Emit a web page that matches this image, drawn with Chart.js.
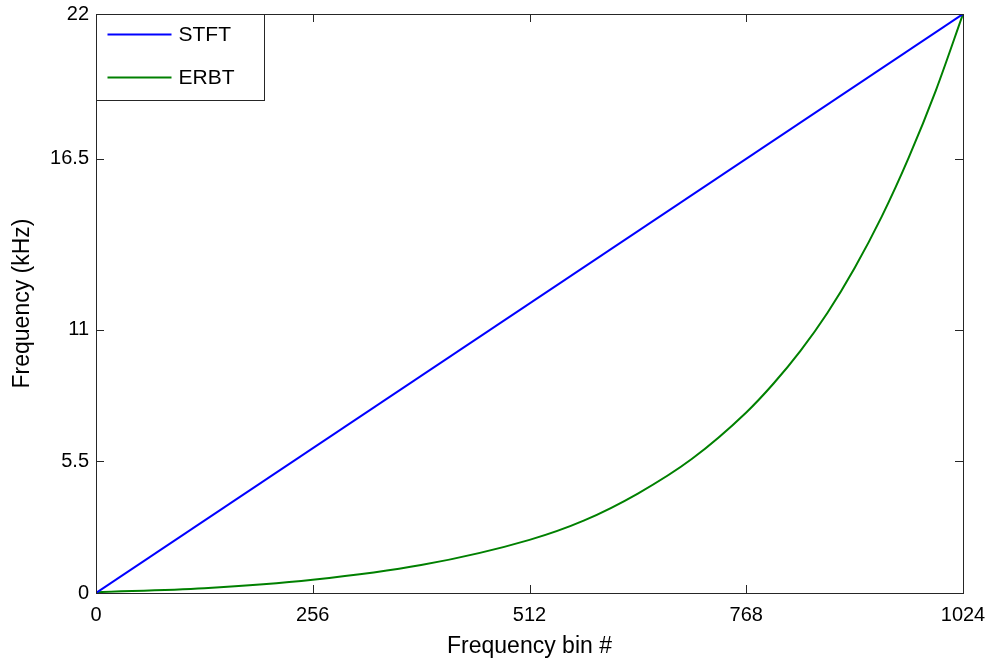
<!DOCTYPE html>
<html>
<head>
<meta charset="utf-8">
<script src="https://cdn.jsdelivr.net/npm/chart.js@4.4.1/dist/chart.umd.min.js"></script>
<style>
  body { margin: 0; background: #fff; }
  #wrap { width: 991px; height: 664px; }
</style>
</head>
<body>
<div id="wrap"><canvas id="freqChart" width="991" height="664"></canvas></div>
<script>
// frequency of each bin: linear STFT bins vs ERB-spaced bins

const stftBins = [0, 1024];
const stftKHz = [0, 22];

const erbBins = [0, 128, 256, 384, 512, 576, 640, 704, 768, 800, 832, 864, 896, 928, 960, 992, 1024];
const erbKHz = [0.03, 0.18, 0.5, 1.06, 2.02, 2.75, 3.78, 5.1, 6.86, 7.95, 9.2, 10.65, 12.35, 14.3, 16.55, 19.1, 22.0];

const xTickValues = [0, 256, 512, 768, 1024];
const yTickValues = [0, 5, 10, 16.5, 22];
const yTickLabels = ["0", "5.5", "11", "16.5", "22"];

const axisColor = "#262626";
const fontName = "'Liberation Sans', Arial, sans-serif";

function toPoints(xs, ys) {
    return xs.map((x, i) => ({ x: x, y: ys[i] }));
}

// box round the plot with tick marks pointing inwards on all four sides
const boxTicks = {
    id: "boxTicks",
    afterDraw(chart) {
        const ctx = chart.ctx;
        const a = chart.chartArea;
        const xs = chart.scales.x;
        const ys = chart.scales.y;
        const len = 8;
        ctx.save();
        ctx.strokeStyle = axisColor;
        ctx.lineWidth = 1;
        ctx.strokeRect(a.left + 0.5, a.top + 0.5, a.right - a.left, a.bottom - a.top);
        ctx.beginPath();
        xs.ticks.forEach(t => {
            const px = Math.round(xs.getPixelForValue(t.value)) + 0.5;
            ctx.moveTo(px, a.bottom); ctx.lineTo(px, a.bottom - len);
            ctx.moveTo(px, a.top); ctx.lineTo(px, a.top + len);
        });
        ys.ticks.forEach(t => {
            const py = Math.round(ys.getPixelForValue(t.value)) + 0.5;
            ctx.moveTo(a.left, py); ctx.lineTo(a.left + len, py);
            ctx.moveTo(a.right, py); ctx.lineTo(a.right - len, py);
        });
        ctx.stroke();
        ctx.restore();
    }
};

// legend drawn inside the top left corner of the plot
const boxLegend = {
    id: "boxLegend",
    afterDraw(chart) {
        const ctx = chart.ctx;
        const a = chart.chartArea;
        const left = a.left + 0.5;
        const top = a.top + 0.5;
        ctx.save();
        ctx.fillStyle = "#fff";
        ctx.fillRect(left, top, 168, 86);
        ctx.strokeStyle = axisColor;
        ctx.lineWidth = 1;
        ctx.strokeRect(left, top, 168, 86);
        ctx.font = "21px " + fontName;
        ctx.textBaseline = "middle";
        chart.data.datasets.forEach((ds, i) => {
            const y = top + 20 + i * 43;
            ctx.strokeStyle = ds.borderColor;
            ctx.lineWidth = 2;
            ctx.beginPath();
            ctx.moveTo(left + 11, y);
            ctx.lineTo(left + 75, y);
            ctx.stroke();
            ctx.fillStyle = "#000";
            ctx.fillText(ds.label, left + 82, y + 1);
        });
        ctx.restore();
    }
};

new Chart("freqChart", {
    type: "line",
    data: {
        datasets: [
            {
                label: "STFT",
                data: toPoints(stftBins, stftKHz),
                borderColor: "rgb(0, 0, 255)",
                borderWidth: 2,
                pointRadius: 0,
            },
            {
                label: "ERBT",
                data: toPoints(erbBins, erbKHz),
                borderColor: "rgb(0, 128, 0)",
                borderWidth: 2,
                pointRadius: 0,
                cubicInterpolationMode: "monotone",
            },
        ]
    },
    options: {
        responsive: false,
        animation: false,
        layout: { padding: { top: 14, right: 28, left: 0, bottom: 0 } },
        plugins: {
            legend: { display: false },
            tooltip: { enabled: false },
        },
        scales: {
            x: {
                type: "linear",
                min: 0,
                max: 1024,
                afterBuildTicks: (scale) => {
                    scale.ticks = xTickValues.map(v => ({ value: v }));
                },
                afterFit: (scale) => {
                    scale.height = 71;
                    scale.paddingLeft = 0;
                    scale.paddingRight = 0;
                },
                grid: { display: false, drawTicks: false },
                border: { display: false },
                ticks: {
                    padding: 10,
                    color: "#000",
                    font: { family: fontName, size: 20 },
                    maxRotation: 0,
                    callback: (value) => String(value),
                },
                title: {
                    display: true,
                    text: "Frequency bin #",
                    color: "#000",
                    font: { family: fontName, size: 23 },
                    padding: { top: 0, bottom: 4 },
                },
            },
            y: {
                type: "linear",
                min: 0,
                max: 22,
                afterBuildTicks: (scale) => {
                    scale.ticks = yTickValues.map(v => ({ value: v }));
                },
                afterFit: (scale) => {
                    scale.width = 96;
                    scale.paddingTop = 0;
                    scale.paddingBottom = 0;
                },
                grid: { display: false, drawTicks: false },
                border: { display: false },
                ticks: {
                    padding: 7,
                    color: "#000",
                    font: { family: fontName, size: 20 },
                    callback: (value) => yTickLabels[yTickValues.indexOf(value)],
                },
                title: {
                    display: true,
                    text: "Frequency (kHz)",
                    color: "#000",
                    font: { family: fontName, size: 23 },
                    padding: { top: 9, bottom: 0 },
                },
            },
        }
    },
    plugins: [boxTicks, boxLegend]
});
</script>
</body>
</html>
